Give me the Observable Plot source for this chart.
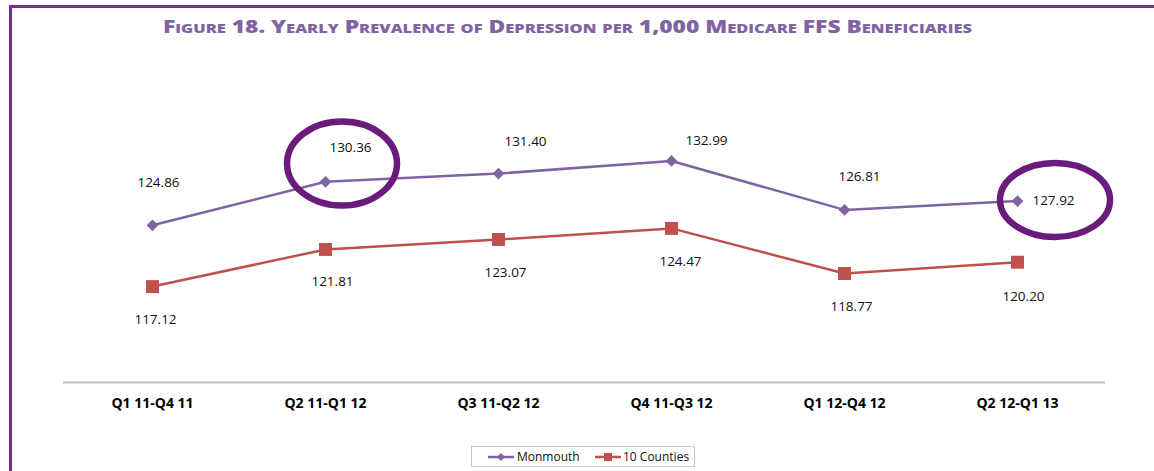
<!DOCTYPE html>
<html>
<head>
<meta charset="utf-8">
<script src="https://cdn.jsdelivr.net/npm/d3@7"></script>
<script src="https://cdn.jsdelivr.net/npm/@observablehq/plot@0.6"></script>
<style>
  html, body { margin: 0; padding: 0; background: #fff; }
  #page { position: relative; width: 1154px; height: 471px; overflow: hidden; font-family: "Open Sans", sans-serif; }
  #frameTop { position: absolute; left: 9px; top: 5px; width: 1145px; height: 3px; background: #7B2D8E; }
  #frameLeft { position: absolute; left: 9px; top: 5px; width: 3px; height: 466px; background: #7B2D8E; }
  #title { position: absolute; left: 0; top: 10px; }
  #chart { position: absolute; left: 0; top: 0; }
  #legend { position: absolute; left: 471px; top: 446px; width: 224px; height: 21px; border: 1px solid #c8c8c8; box-sizing: border-box; }
</style>
</head>
<body>
<div id="page">
  <div id="chart"></div>
  <div id="frameTop"></div>
  <div id="frameLeft"></div>
  <svg id="title" width="1154" height="36">
    <text x="163" y="23" textLength="809" lengthAdjust="spacingAndGlyphs"
      font-family="Open Sans, sans-serif" font-weight="800" font-size="18"
      style="font-variant: small-caps" fill="#8064A2">Figure 18. Yearly Prevalence of Depression per 1,000 Medicare FFS Beneficiaries</text>
  </svg>
  <div id="legend"></div>
</div>
<script>
// ---- data ----
const periods = ["Q1 11-Q4 11", "Q2 11-Q1 12", "Q3 11-Q2 12", "Q4 11-Q3 12", "Q1 12-Q4 12", "Q2 12-Q1 13"];
const monmouth = [124.86, 130.36, 131.40, 132.99, 126.81, 127.92];
const tenCounties = [117.12, 121.81, 123.07, 124.47, 118.77, 120.20];
const seriesNames = ["Monmouth", "10 Counties"];

// label offsets (px) mimicking the original label placement
const monDx = [6, 25, 27, 35, 15, 36];
const monDy = [-43, -34, -32, -20, -33, 0];
const tenDx = [3, 7, 7, 9, 7, 6];
const tenDy = [33, 32, 33, 33, 33, 34];

// highlighted points (annotation ellipses)
const highlighted = [1, 5];
const ellipseDx = [17, 38];
const ellipseValue = [132.6, 128.0];

const purple = "#8064A2";
const red = "#C0504D";
const ringColor = "#6A1B7C";

const fmt = d => d.toFixed(2);

const monData = periods.map((p, i) => ({period: p, value: monmouth[i], i}));
const tenData = periods.map((p, i) => ({period: p, value: tenCounties[i], i}));

const labelMarks = [];
monData.forEach((d, i) => {
  labelMarks.push(Plot.text([d], {x: "period", y: "value", text: d => fmt(d.value), dx: monDx[i], dy: monDy[i],
    fontSize: 13.5, fill: "#111", textAnchor: "middle"}));
});
tenData.forEach((d, i) => {
  labelMarks.push(Plot.text([d], {x: "period", y: "value", text: d => fmt(d.value), dx: tenDx[i], dy: tenDy[i],
    fontSize: 13.5, fill: "#111", textAnchor: "middle"}));
});

const ringData = highlighted.map((k, j) => ({period: periods[k], value: ellipseValue[j], dx: ellipseDx[j]}));

const rings = Plot.dot(ringData, {
  x: "period", y: "value",
  render(index, scales, values, dimensions, context) {
    const g = d3.create("svg:g");
    for (const i of index) {
      g.append("ellipse")
        .attr("cx", values.x[i] + ringData[i].dx)
        .attr("cy", values.y[i])
        .attr("rx", 55)
        .attr("ry", i === 0 ? 42 : 37)
        .attr("fill", "none")
        .attr("stroke", ringColor)
        .attr("stroke-width", 6.5);
    }
    return g.node();
  }
});

const chart = Plot.plot({
  width: 1154,
  height: 471,
  marginLeft: 63,
  marginRight: 49,
  marginTop: 105,
  marginBottom: 89,
  style: {fontFamily: "Open Sans, sans-serif", background: "transparent", overflow: "visible"},
  x: {type: "point", domain: periods, padding: 0.5, label: null},
  y: {domain: [105, 140], axis: null},
  marks: [
    Plot.ruleY([105], {stroke: "#c0c0c0", strokeWidth: 2}),
    Plot.axisX({tickSize: 0, tickPadding: 16, fontSize: 14, fontWeight: "bold", fill: "#000", label: null}),
    Plot.line(monData, {x: "period", y: "value", stroke: purple, strokeWidth: 2.5}),
    Plot.line(tenData, {x: "period", y: "value", stroke: red, strokeWidth: 2.5}),
    Plot.dot(monData, {x: "period", y: "value", symbol: "diamond2", r: 5.3, fill: purple, stroke: "none"}),
    Plot.dot(tenData, {x: "period", y: "value", symbol: "square", r: 7.3, fill: red, stroke: "none"}),
    ...labelMarks,
    rings
  ]
});
document.getElementById("chart").appendChild(chart);

// ---- legend ----
const leg = d3.select("#legend").append("svg").attr("width", 222).attr("height", 19);
const items = [
  {name: seriesNames[0], color: purple, sym: "diamond", x0: 16, tx: 45},
  {name: seriesNames[1], color: red, sym: "square", x0: 123, tx: 151}
];
items.forEach(it => {
  leg.append("line").attr("x1", it.x0).attr("x2", it.x0 + 26).attr("y1", 10).attr("y2", 10)
    .attr("stroke", it.color).attr("stroke-width", 2.5);
  if (it.sym === "diamond") {
    leg.append("path").attr("d", d3.symbol(d3.symbolDiamond2, 40)()).attr("transform", `translate(${it.x0 + 13},10)`).attr("fill", it.color);
  } else {
    leg.append("rect").attr("x", it.x0 + 9).attr("y", 6).attr("width", 8).attr("height", 8).attr("fill", it.color);
  }
  leg.append("text").attr("x", it.tx).attr("y", 14).attr("font-size", 12).attr("font-family", "Open Sans, sans-serif")
    .attr("fill", "#111").text(it.name);
});
</script>
</body>
</html>
